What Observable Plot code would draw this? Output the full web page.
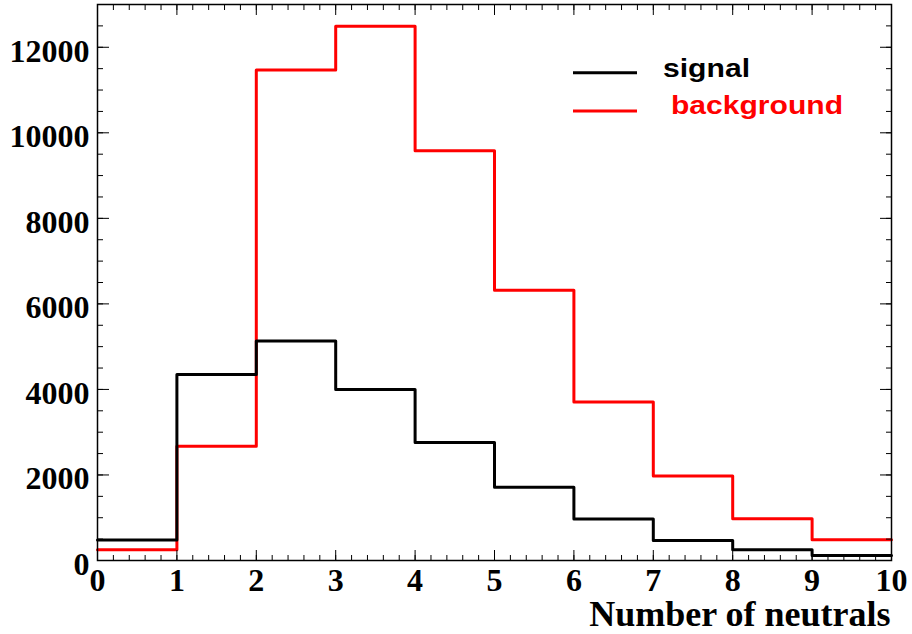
<!DOCTYPE html>
<html><head><meta charset="utf-8">
<script src="https://cdn.jsdelivr.net/npm/d3@7"></script>
<script src="https://cdn.jsdelivr.net/npm/@observablehq/plot@0.6"></script>
<style>
body{margin:0;background:#fff;}
#wrap{position:relative;width:912px;height:634px;}
#legend{position:absolute;left:0;top:0;pointer-events:none;}
</style></head><body>
<div id="wrap"></div>
<script>
// Data
const binEdges = [0, 1, 2, 3, 4, 5, 6, 7, 8, 9, 10];
const signal = [480, 4350, 5130, 4000, 2760, 1715, 970, 470, 250, 117];
const background = [250, 2670, 11470, 12490, 9580, 6320, 3705, 1975, 977, 485];
const xTickValues = [0, 1, 2, 3, 4, 5, 6, 7, 8, 9, 10];
const yTickValues = [0, 2000, 4000, 6000, 8000, 10000, 12000];
const seriesNames = ["signal", "background"];
const seriesColors = ["black", "#ff0000"];
const xLabel = "Number of neutrals";

const xMinor = d3.range(0, 10.0001, 0.2);
const yMinor = d3.range(0, 13001, 500);

function steps(values) {
  return binEdges.map((x, i) => ({x, y: values[Math.min(i, values.length - 1)]}));
}

const tickFont = {fontSize: 32, fontWeight: "bold", fontFamily: "Liberation Serif"};
const noText = {text: null, label: null};
const fmt = d => String(d);

const plot = Plot.plot({
  width: 912, height: 634,
  marginLeft: 97, marginRight: 21, marginTop: 4, marginBottom: 74,
  x: {domain: [0, 10], label: null},
  y: {domain: [0, 13000], label: null},
  style: {background: "white", color: "black", overflow: "visible"},
  marks: [
    Plot.line(steps(background), {x: "x", y: "y", curve: "step-after", stroke: seriesColors[1], strokeWidth: 3}),
    Plot.line(steps(signal), {x: "x", y: "y", curve: "step-after", stroke: seriesColors[0], strokeWidth: 3}),
    // inward ticks, ROOT style
    Plot.axisX(xMinor, {anchor: "bottom", tickSize: 5, dy: -5, ...noText}),
    Plot.axisX(xTickValues, {anchor: "bottom", tickSize: 10, dy: -10, ...noText}),
    Plot.axisX(xMinor, {anchor: "top", tickSize: 5, dy: 5, ...noText}),
    Plot.axisX(xTickValues, {anchor: "top", tickSize: 10, dy: 10, ...noText}),
    Plot.axisY(yMinor, {anchor: "left", tickSize: 6, dx: 6, ...noText}),
    Plot.axisY(yTickValues, {anchor: "left", tickSize: 12, dx: 12, ...noText}),
    Plot.axisY(yMinor, {anchor: "right", tickSize: 6, dx: -6, ...noText}),
    Plot.axisY(yTickValues, {anchor: "right", tickSize: 12, dx: -12, ...noText}),
    // tick labels
    Plot.axisX(xTickValues, {anchor: "bottom", tickSize: 0, tickPadding: 8, tickFormat: fmt, label: null, ...tickFont}),
    Plot.axisY(yTickValues, {anchor: "left", tickSize: 0, tickPadding: 8, dy: 4, tickFormat: fmt, label: null, ...tickFont}),
    Plot.frame({stroke: "black", strokeWidth: 1.5}),
    Plot.text([xLabel], {frameAnchor: "bottom-right", textAnchor: "end", lineAnchor: "middle", dy: 54, dx: -1,
      fontSize: 36, fontWeight: "bold", fontFamily: "Liberation Serif", fill: "black"})
  ]
});

const wrap = document.getElementById("wrap");
wrap.appendChild(plot);

// Legend overlay
const ns = "http://www.w3.org/2000/svg";
const leg = document.createElementNS(ns, "svg");
leg.setAttribute("id", "legend");
leg.setAttribute("width", 912);
leg.setAttribute("height", 634);
const legRows = [
  {lineY: 72.7, textX: 663, textY: 77, width: 87},
  {lineY: 111, textX: 671, textY: 114, width: 172}
];
seriesNames.forEach((name, i) => {
  const r = legRows[i];
  const ln = document.createElementNS(ns, "line");
  ln.setAttribute("x1", 573); ln.setAttribute("x2", 637);
  ln.setAttribute("y1", r.lineY); ln.setAttribute("y2", r.lineY);
  ln.setAttribute("stroke", seriesColors[i]); ln.setAttribute("stroke-width", 3);
  leg.appendChild(ln);
  const t = document.createElementNS(ns, "text");
  t.setAttribute("x", r.textX); t.setAttribute("y", r.textY);
  t.setAttribute("fill", seriesColors[i]);
  t.setAttribute("font-family", "Liberation Sans, Arial, sans-serif");
  t.setAttribute("font-weight", "bold");
  t.setAttribute("font-size", 25);
  t.setAttribute("textLength", r.width);
  t.setAttribute("lengthAdjust", "spacingAndGlyphs");
  t.textContent = name;
  leg.appendChild(t);
});
wrap.appendChild(leg);
</script>
</body></html>
